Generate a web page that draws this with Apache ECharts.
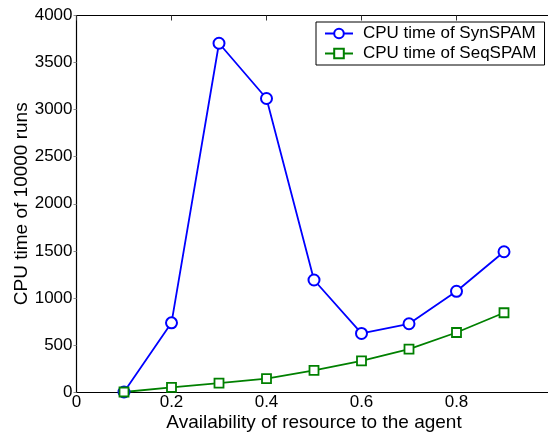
<!DOCTYPE html>
<html>
<head>
<meta charset="utf-8">
<script src="https://cdn.jsdelivr.net/npm/echarts@6/dist/echarts.min.js"></script>
<style>
  html, body { margin: 0; padding: 0; background: #fff; }
  #chart { width: 548px; height: 435px; }
</style>
</head>
<body>
<div id="chart"></div>
<script>
// availability levels (x) and measured CPU times
const availability = [0.1, 0.2, 0.3, 0.4, 0.5, 0.6, 0.7, 0.8, 0.9];
const synSpamTime = [0, 735, 3705, 3118, 1190, 622, 725, 1070, 1490];
const seqSpamTime = [0, 50, 95, 143, 230, 330, 455, 632, 842];

const FONT = 'Liberation Sans, Arial, sans-serif';

const chart = echarts.init(document.getElementById('chart'), null, { renderer: 'canvas' });

const pairs = (ys) => availability.map((x, i) => [x, ys[i]]);

chart.setOption({
  animation: false,
  textStyle: { fontFamily: FONT },
  grid: {
    left: 76.5,
    top: 15.5,
    width: 475,
    height: 376.5,
    outerBoundsMode: 'none',
    containLabel: false,
  },
  legend: {
    left: 316,
    top: 22,
    orient: 'vertical',
    backgroundColor: '#fff',
    borderColor: '#000',
    borderWidth: 1,
    borderRadius: 0,
    padding: [3, 8, 3, 8],
    itemGap: 3,
    itemWidth: 28,
    itemHeight: 12,
    textStyle: { fontFamily: FONT, fontSize: 17, color: '#000', padding: [0, 0, 0, 5] },
  },
  xAxis: [
    {
      type: 'value',
      min: 0,
      max: 1,
      interval: 0.2,
      name: 'Availability of resource to the agent',
      nameLocation: 'middle',
      nameGap: 21,
      nameMoveOverlap: false,
      nameTextStyle: { fontFamily: FONT, fontSize: 19, color: '#000' },
      axisLine: { lineStyle: { color: '#000', width: 1.2 } },
      axisTick: { show: false },
      axisLabel: {
        color: '#000',
        fontSize: 17,
        margin: 2,
        formatter: (v) => (v >= 1 ? '' : String(Math.round(v * 10) / 10)),
      },
      splitLine: { show: false },
    },
    {
      type: 'value',
      position: 'top',
      min: 0,
      max: 1,
      interval: 0.2,
      axisLine: { lineStyle: { color: '#000', width: 1.2 } },
      axisTick: { inside: true, length: 5, lineStyle: { color: '#333' } },
      axisLabel: { show: false },
      splitLine: { show: false },
    },
  ],
  yAxis: {
    type: 'value',
    min: 0,
    max: 4000,
    interval: 500,
    name: 'CPU time of 10000 runs',
    nameLocation: 'middle',
    nameGap: 45,
    nameMoveOverlap: false,
    nameTextStyle: { fontFamily: FONT, fontSize: 19, color: '#000' },
    axisLine: { show: true, lineStyle: { color: '#000', width: 1.2 } },
    axisTick: { show: true, inside: false, length: 3, lineStyle: { color: '#888' } },
    axisLabel: { color: '#000', fontSize: 17, margin: 4, formatter: (v) => String(v) },
    splitLine: { show: false },
  },
  series: [
    {
      name: 'CPU time of SynSPAM',
      type: 'line',
      data: pairs(synSpamTime),
      color: '#0000ff',
      symbol: 'emptyCircle',
      symbolSize: 11,
      lineStyle: { width: 1.8, color: '#0000ff' },
      itemStyle: { color: '#0000ff', borderColor: '#0000ff', borderWidth: 1.8 },
    },
    {
      name: 'CPU time of SeqSPAM',
      type: 'line',
      data: pairs(seqSpamTime),
      color: '#008000',
      symbol: 'rect',
      symbolSize: 9,
      lineStyle: { width: 1.8, color: '#008000' },
      itemStyle: { color: '#fff', borderColor: '#008000', borderWidth: 1.8 },
    },
  ],
});
</script>
</body>
</html>
